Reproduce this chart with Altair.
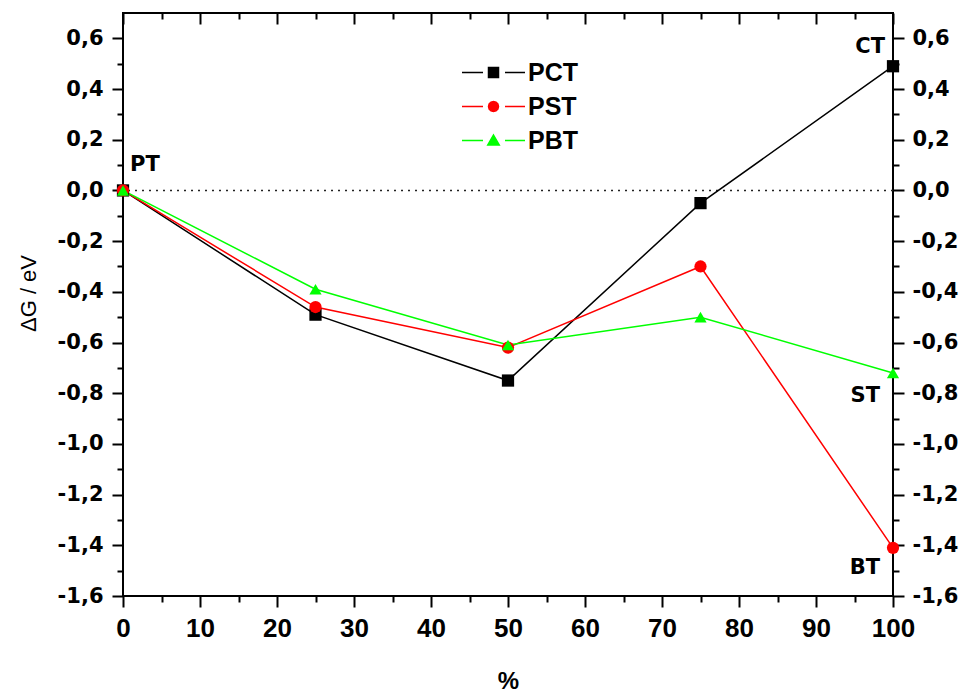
import altair as alt
import pandas as pd

# ---- data ----
x_vals = [0, 25, 50, 75, 100]
pct = [0.0, -0.49, -0.75, -0.05, 0.49]
pst = [0.0, -0.46, -0.62, -0.30, -1.41]
pbt = [0.0, -0.39, -0.61, -0.50, -0.72]
series_names = ["PCT", "PST", "PBT"]
series_colors = ["#000000", "#ff0000", "#00ff00"]
marker_shapes = ["square", "circle", "triangle-up"]

x_ticks = [0, 5, 10, 15, 20, 25, 30, 35, 40, 45, 50, 55, 60, 65, 70, 75, 80, 85, 90, 95, 100]
y_ticks = [-1.6, -1.5, -1.4, -1.3, -1.2, -1.1, -1.0, -0.9, -0.8, -0.7, -0.6, -0.5,
           -0.4, -0.3, -0.2, -0.1, 0.0, 0.1, 0.2, 0.3, 0.4, 0.5, 0.6]
zero_level = [0.0]

annot_labels = ["PT", "CT", "ST", "BT"]

df = pd.DataFrame({
    "x": x_vals * 3,
    "y": pct + pst + pbt,
    "series": [series_names[0]] * len(pct) + [series_names[1]] * len(pst) + [series_names[2]] * len(pbt),
})
zero_df = pd.DataFrame({"y": zero_level})

# annotation anchors taken from series endpoints
ann = {
    "PT": (x_vals[0], pct[0]),
    "CT": (x_vals[-1], pct[-1]),
    "ST": (x_vals[-1], pbt[-1]),
    "BT": (x_vals[-1], pst[-1]),
}
ann_style = {  # align, dx, dy
    "PT": ("left", 7, -25),
    "CT": ("right", -8, -19),
    "ST": ("right", -13, 23),
    "BT": ("right", -13, 20),
}

xs = alt.Scale(domain=[0, 100], nice=False, zero=False)
ys = alt.Scale(domain=[-1.6, 0.7], nice=False, zero=False)

x_major = "datum.value % 10 == 0"
y_major = "abs(round(datum.value * 10)) % 2 == 0"
y_label_expr = ("abs(round(datum.value * 10)) % 2 == 1 ? '' : "
                "replace((datum.value < -0.001 ? '-' : '') + format(abs(datum.value), '.1f'), '.', ',')")

x_bottom = alt.Axis(
    orient="bottom", values=x_ticks, domain=False, grid=False,
    tickSize={"condition": {"test": x_major, "value": 11}, "value": 6},
    tickWidth=2, tickColor="black",
    labelExpr="datum.value % 10 == 0 ? datum.label : ''",
    labelFont="Liberation Sans", labelFontSize=26, labelFontWeight="bold", labelColor="black",
    labelPadding=8, labelFlush=False, labelOverlap=False,
    title="%", titleFont="Liberation Sans", titleFontSize=24, titleFontWeight="bold",
    titleColor="black", titleX=385, titleY=92, titleBaseline="alphabetic",
)
x_top = alt.Axis(
    orient="top", values=x_ticks, domain=False, grid=False, labels=False, title=None,
    offset=-11, tickSize=11, tickWidth=2, tickColor="black",
    tickDash={"condition": {"test": x_major, "value": [30, 1]}, "value": [0, 5, 6, 100]},
)
y_left = alt.Axis(
    orient="left", values=y_ticks, domain=False, grid=False,
    tickSize={"condition": {"test": y_major, "value": 11}, "value": 6},
    tickWidth=2, tickColor="black",
    labelExpr=y_label_expr, labelFont="DejaVu Sans", labelFontSize=21, labelFontWeight="bold",
    labelColor="black", labelPadding=9, labelFlush=False, labelOverlap=False,
    title="ΔG / eV", titleFont="Liberation Sans", titleFontSize=22, titleFontWeight="normal",
    titleColor="black", titleX=-88, titleY=280, titleBaseline="alphabetic",
)
y_right = alt.Axis(
    orient="right", values=y_ticks, domain=False, grid=False,
    tickSize={"condition": {"test": y_major, "value": 11}, "value": 6},
    tickWidth=2, tickColor="black",
    labelExpr=y_label_expr, labelFont="DejaVu Sans", labelFontSize=21, labelFontWeight="bold",
    labelColor="black", labelPadding=8, labelFlush=False, labelOverlap=False, title=None,
)

# legend symbols: line segment + marker + line segment (custom SVG paths)
legend_paths = [
    "M-6.3,0L-2.1,0M2.3,0L6.3,0M-1,-1L1,-1L1,1L-1,1Z",
    "M-6.3,0L-2.1,0M2.3,0L6.3,0M1,0L0.87,0.5L0.5,0.87L0,1L-0.5,0.87L-0.87,0.5L-1,0"
    "L-0.87,-0.5L-0.5,-0.87L0,-1L0.5,-0.87L0.87,-0.5Z",
    "M-6.3,0L-2.1,0M2.3,0L6.3,0M0,-1.1L1.15,0.9L-1.15,0.9Z",
]
leg = alt.Legend(
    orient="none", legendX=358, legendY=47, title=None, direction="vertical",
    labelFont="Liberation Sans", labelFontSize=25, labelFontWeight="bold", labelColor="black",
    labelOffset=22, symbolSize=100, symbolStrokeWidth=1.5, symbolOpacity=1,
    rowPadding=8, padding=0,
)

color_scale = alt.Scale(domain=series_names, range=series_colors)
stroke_enc = alt.Stroke("series:N", scale=color_scale, legend=leg)
fill_enc = alt.Fill("series:N", scale=color_scale, legend=leg)

zero_rule = alt.Chart(zero_df).mark_rule(color="#222222", strokeWidth=1.5, strokeDash=[2, 5]).encode(
    y=alt.Y("y:Q", scale=ys, axis=None)
)

lines = alt.Chart(df).mark_line(strokeWidth=1.5).encode(
    x=alt.X("x:Q", scale=xs, axis=x_bottom),
    y=alt.Y("y:Q", scale=ys, axis=y_left),
    stroke=stroke_enc,
)

point_layers = []
for i, name in enumerate(series_names):
    point_layers.append(
        alt.Chart(df).transform_filter(alt.datum.series == name).mark_point(
            filled=True, size=150, opacity=1, shape=marker_shapes[i], strokeWidth=0
        ).encode(
            x=alt.X("x:Q", scale=xs, axis=x_top if i == 0 else None),
            y=alt.Y("y:Q", scale=ys, axis=y_right if i == 0 else None),
            fill=fill_enc,
        )
    )

# invisible layer that only carries the legend shapes
legend_layer = alt.Chart(df).mark_point(opacity=0, strokeWidth=1.5, size=100).encode(
    x=alt.X("x:Q", scale=xs, axis=None),
    y=alt.Y("y:Q", scale=ys, axis=None),
    fill=fill_enc,
    stroke=stroke_enc,
    shape=alt.Shape("series:N", scale=alt.Scale(domain=series_names, range=legend_paths), legend=leg),
)

texts = []
for lab in annot_labels:
    ax, ay = ann[lab]
    align, dx, dy = ann_style[lab]
    tdf = pd.DataFrame({"x": [ax], "y": [ay], "t": [lab]})
    texts.append(
        alt.Chart(tdf).mark_text(
            align=align, baseline="middle", dx=dx, dy=dy,
            font="DejaVu Sans", fontSize=21, fontWeight="bold", color="black",
        ).encode(
            x=alt.X("x:Q", scale=xs, axis=None),
            y=alt.Y("y:Q", scale=ys, axis=None),
            text="t:N",
        )
    )

chart = alt.layer(zero_rule, lines, *point_layers, legend_layer, *texts).resolve_axis(
    x="independent", y="independent"
).properties(
    width=770, height=583,
    padding={"left": 123, "top": 13, "right": 72, "bottom": 99},
    autosize="none",
    background="white",
).configure_view(stroke="black", strokeWidth=2)

chart.save("out.html", embed_options={"renderer": "svg", "actions": False})
